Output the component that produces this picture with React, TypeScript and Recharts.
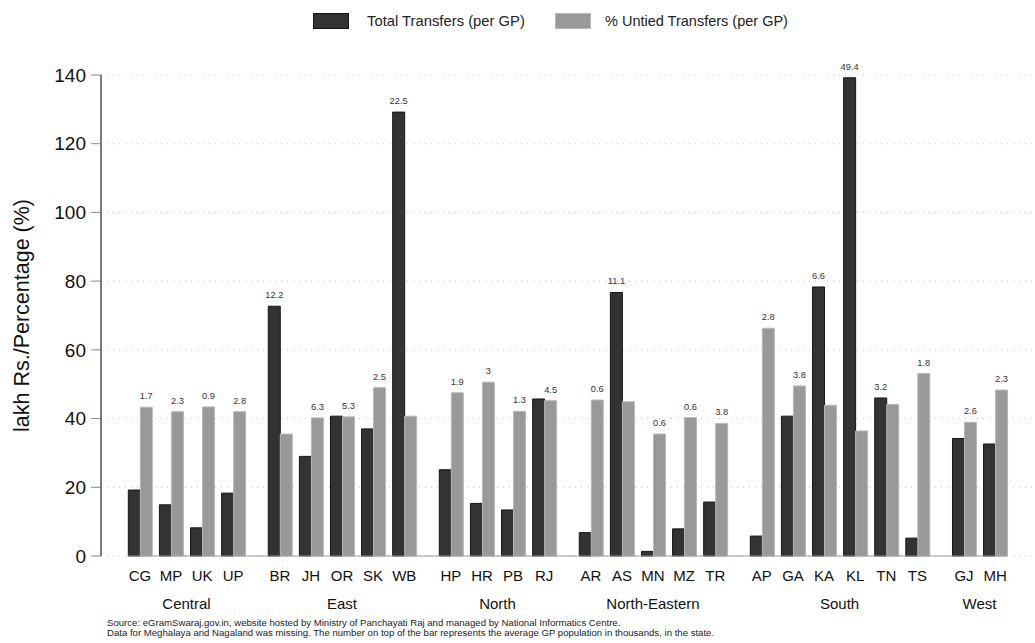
import React from 'react';
import { BarChart, Bar, XAxis, YAxis, CartesianGrid, ReferenceLine, LabelList } from 'recharts';

const states = ['CG', 'MP', 'UK', 'UP', 'BR', 'JH', 'OR', 'SK', 'WB', 'HP', 'HR', 'PB', 'RJ', 'AR', 'AS', 'MN', 'MZ', 'TR', 'AP', 'GA', 'KA', 'KL', 'TN', 'TS', 'GJ', 'MH'];
const regions = ['Central', 'East', 'North', 'North-Eastern', 'South', 'West'];
const regionOfState = [
  'Central', 'Central', 'Central', 'Central',
  'East', 'East', 'East', 'East', 'East',
  'North', 'North', 'North', 'North',
  'North-Eastern', 'North-Eastern', 'North-Eastern', 'North-Eastern', 'North-Eastern',
  'South', 'South', 'South', 'South', 'South', 'South',
  'West', 'West',
];
const totalTransfers = [19.2, 14.9, 8.2, 18.3, 72.7, 29.0, 40.7, 37.0, 129.2, 25.1, 15.3, 13.4, 45.7, 6.8, 76.7, 1.35, 7.9, 15.7, 5.8, 40.7, 78.3, 139.2, 46.0, 5.2, 34.2, 32.6];
const untiedShare = [43.3, 42.0, 43.4, 42.0, 35.5, 40.2, 40.5, 49.0, 40.7, 47.5, 50.6, 42.1, 45.2, 45.4, 44.9, 35.5, 40.3, 38.6, 66.3, 49.5, 43.9, 36.4, 44.1, 53.1, 38.9, 48.3];
const avgPopulation = ['1.7', '2.3', '0.9', '2.8', '12.2', '6.3', '5.3', '2.5', '22.5', '1.9', '3', '1.3', '4.5', '0.6', '11.1', '0.6', '0.6', '3.8', '2.8', '3.8', '6.6', '49.4', '3.2', '1.8', '2.6', '2.3'];
const labelledSeries = [
  'untied', 'untied', 'untied', 'untied',
  'total', 'untied', 'untied', 'untied', 'total',
  'untied', 'untied', 'untied', 'untied',
  'untied', 'total', 'untied', 'untied', 'untied',
  'untied', 'untied', 'total', 'total', 'total', 'untied',
  'untied', 'untied',
];
const yTicks = [0, 20, 40, 60, 80, 100, 120, 140];

const positions = states.map((_, i) => i + 0.5 * regions.indexOf(regionOfState[i]));
const data = states.map((s, i) => ({
  pos: positions[i],
  state: s,
  total: totalTransfers[i],
  untied: untiedShare[i],
  popTotal: labelledSeries[i] === 'total' ? avgPopulation[i] : null,
  popUntied: labelledSeries[i] === 'untied' ? avgPopulation[i] : null,
}));
const groupCenters = regions.map((r) => {
  const ps = positions.filter((_, i) => regionOfState[i] === r);
  return (Math.min(...ps) + Math.max(...ps)) / 2;
});

const FONT = '"Liberation Sans", Arial, Helvetica, sans-serif';
const DARK = '#333333';
const DARK_STROKE = '#151515';
const GREY = '#999999';
const GREY_STROKE = '#b8b8b8';
const overhang = 0.39;

const renderPop = (props: any) => {
  const { x, y, width, value } = props;
  if (value === null || value === undefined || value === '') return null;
  return (
    <text x={x + width / 2} y={y - 8} textAnchor="middle" fontSize={9.3} fill="#333" fontFamily={FONT}>
      {value}
    </text>
  );
};

const StateTick = (props: any) => {
  const { x, y, payload } = props;
  const idx = positions.indexOf(payload.value);
  return (
    <text x={x} y={y + 25} textAnchor="middle" fontSize={15} fill="#111" fontFamily={FONT}>
      {states[idx]}
    </text>
  );
};

const GroupTick = (props: any) => {
  const { x, y, payload } = props;
  const idx = groupCenters.indexOf(payload.value);
  return (
    <text x={x} y={y + 23} textAnchor="middle" fontSize={15} fill="#111" fontFamily={FONT}>
      {regions[idx]}
    </text>
  );
};

const YLabel = (props: any) => {
  const vb = props.viewBox || {};
  const cx = 29;
  const cy = vb.y + vb.height / 2;
  return (
    <text x={cx} y={cy} transform={`rotate(-90, ${cx}, ${cy})`} textAnchor="middle" fontSize={21.5} fill="#111" fontFamily={FONT}>
      lakh Rs./Percentage (%)
    </text>
  );
};

export default function App() {
  return (
    <div style={{ position: 'absolute', left: 0, top: 0, width: 1035, height: 643, background: '#fff', fontFamily: FONT }}>
      <div style={{ position: 'absolute', left: 313, top: 13, width: 36, height: 16, background: DARK, boxSizing: 'border-box', border: `1px solid ${DARK_STROKE}` }} />
      <div style={{ position: 'absolute', left: 367, top: 12, fontSize: 14.8, lineHeight: '18px', color: '#222' }}>Total Transfers (per GP)</div>
      <div style={{ position: 'absolute', left: 555, top: 13, width: 36, height: 16, background: GREY, boxSizing: 'border-box', border: `1px solid ${GREY_STROKE}` }} />
      <div style={{ position: 'absolute', left: 605, top: 12, fontSize: 14.5, lineHeight: '18px', color: '#222' }}>% Untied Transfers (per GP)</div>

      <div style={{ position: 'absolute', left: 0, top: 0 }}>
        <BarChart width={1035} height={643} data={data} margin={{ top: 75, right: 1, left: 0, bottom: 27 }} barSize={12} barGap={0}>
          <CartesianGrid xAxisId={0} vertical={false} stroke="#bdbdbd" strokeDasharray="1 5" />
          <XAxis
            xAxisId={0}
            dataKey="pos"
            type="number"
            domain={[-1.25, 28.75]}
            ticks={positions}
            interval={0}
            allowDataOverflow
            height={30}
            axisLine={false}
            tickLine={false}
            tickSize={0}
            tickMargin={0}
            tick={<StateTick />}
          />
          <XAxis
            xAxisId={1}
            dataKey="pos"
            type="number"
            domain={[-1.25, 28.75]}
            ticks={groupCenters}
            interval={0}
            allowDataOverflow
            height={30}
            axisLine={false}
            tickLine={false}
            tickSize={0}
            tickMargin={0}
            tick={<GroupTick />}
          />
          <YAxis
            type="number"
            domain={[0, 140]}
            ticks={yTicks}
            interval={0}
            width={101}
            tickSize={10}
            tickMargin={5}
            tick={{ fontSize: 19, fill: '#111', fontFamily: FONT }}
            tickLine={{ stroke: '#888' }}
            axisLine={{ stroke: '#222', strokeWidth: 1.2 }}
            label={<YLabel />}
          />
          <Bar xAxisId={0} dataKey="total" fill={DARK} stroke={DARK_STROKE} strokeWidth={1} isAnimationActive={false}>
            <LabelList dataKey="popTotal" content={renderPop} />
          </Bar>
          <Bar xAxisId={0} dataKey="untied" fill={GREY} stroke={GREY_STROKE} strokeWidth={1} isAnimationActive={false}>
            <LabelList dataKey="popUntied" content={renderPop} />
          </Bar>
          <ReferenceLine
            xAxisId={0}
            segment={[
              { x: positions[0] - overhang, y: 0 },
              { x: positions[positions.length - 1] + overhang, y: 0 },
            ]}
            stroke="#999"
            strokeWidth={1.2}
          />
        </BarChart>
      </div>

      <div style={{ position: 'absolute', left: 107, top: 617.5, fontSize: 9.6, lineHeight: '10.5px', color: '#222', whiteSpace: 'nowrap' }}>
        Source: eGramSwaraj.gov.in, website hosted by Ministry of Panchayati Raj and managed by National Informatics Centre.
        <br />
        Data for Meghalaya and Nagaland was missing. The number on top of the bar represents the average GP population in thousands, in the state.
      </div>
    </div>
  );
}
